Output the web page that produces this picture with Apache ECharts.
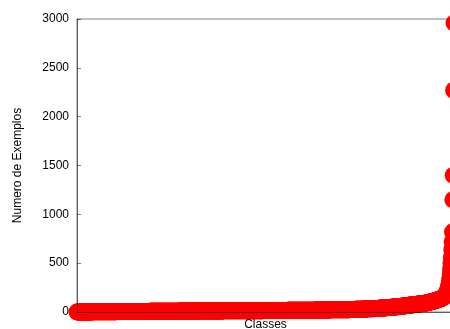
<!DOCTYPE html>
<html>
<head>
<meta charset="utf-8">
<script src="https://cdn.jsdelivr.net/npm/echarts@6/dist/echarts.min.js"></script>
<style>
  html, body { margin: 0; padding: 0; background: #fff; }
  #chart { width: 450px; height: 329px; }
</style>
</head>
<body>
<div id="chart"></div>
<script>
// Number of examples per class, sorted ascending.
// exampleCounts[k] examples occur in classesWithCount[k] classes.
const exampleCounts = [
  1, 2, 3, 4, 5,
  6, 7, 8, 9, 10, 11, 12,
  13, 14, 15, 16, 17,
  18, 19, 20, 21, 22, 23, 24,
  25, 26, 27, 28, 29, 30, 31, 32, 33, 34, 35, 36, 37, 38,
  39, 40, 41, 42, 43, 44, 45, 46, 47, 48, 49, 50, 51, 52, 53, 54, 55, 56,
  57, 58, 59, 60, 61, 62, 63, 64, 65, 66, 67, 68, 69, 70, 71, 72, 73, 74, 75, 76, 77, 78, 79, 80, 81, 82,
  83, 84, 85, 86, 87, 88, 89, 90, 91, 92, 93, 94, 95, 96, 97, 98, 99, 100,
  101, 102, 103, 104, 105, 106, 107, 108, 109, 110, 111, 112, 113, 114, 116, 117, 118, 119, 120,
  122, 123, 124, 126, 127, 128, 130, 131, 132, 134,
  135, 137, 139, 141, 143, 145, 147, 150, 153, 157, 161, 166, 172, 178, 185, 192, 200, 210,
  222, 235, 250, 270, 290, 320, 350, 390, 440, 500, 560, 640, 720, 820, 1150, 1400, 2270, 2960
];
const classesWithCount = [
  40, 35, 30, 25, 18,
  45, 42, 40, 40, 38, 36, 35,
  36, 34, 33, 33, 31,
  22, 21, 20, 19, 18, 17, 16,
  8, 8, 7, 7, 6, 6, 6, 5, 5, 5, 5, 4, 4, 4,
  4, 4, 4, 3, 3, 3, 3, 3, 3, 3, 3, 3, 2, 2, 2, 2, 2, 4,
  3, 2, 2, 2, 2, 2, 2, 2, 2, 2, 2, 2, 2, 2, 2, 2, 2, 2, 2, 2, 2, 2, 2, 2, 2, 2,
  2, 2, 2, 2, 2, 2, 2, 2, 2, 1, 1, 1, 1, 1, 1, 1, 1, 1,
  1, 1, 1, 1, 1, 1, 1, 1, 1, 1, 1, 1, 1, 1, 1, 1, 1, 1, 1,
  1, 1, 1, 1, 1, 1, 1, 1, 1, 1,
  1, 1, 1, 1, 1, 1, 1, 1, 1, 1, 1, 1, 1, 1, 1, 1, 1, 1,
  1, 1, 1, 1, 1, 1, 1, 1, 1, 1, 1, 1, 1, 1, 1, 1, 1, 1
];
const yTicks = [0, 500, 1000, 1500, 2000, 2500, 3000];
const xTitle = 'Classes';
const yTitle = 'Numero de Exemplos';

// One point per class: [class rank, number of examples]
const points = [];
exampleCounts.forEach((count, k) => {
  for (let j = 0; j < classesWithCount[k]; j++) {
    points.push([points.length + 1, count]);
  }
});

const axisInk = 'rgba(0,0,0,0.5)';
const font = 'Liberation Sans, Arial, Helvetica, sans-serif';

const chart = echarts.init(document.getElementById('chart'), null, { renderer: 'canvas' });
chart.setOption({
  animation: false,
  backgroundColor: '#fff',
  grid: {
    left: 77, top: 19, width: 377, bottom: 17,
    outerBoundsMode: 'none',
    containLabel: false,
    show: true, borderColor: axisInk, borderWidth: 1, backgroundColor: 'transparent'
  },
  xAxis: {
    type: 'value',
    min: 1,
    max: points.length,
    z: 10,
    name: xTitle,
    nameLocation: 'middle',
    nameGap: 7,
    nameTextStyle: { fontFamily: font, fontSize: 12, color: '#000' },
    axisLine: { show: true, lineStyle: { color: axisInk, width: 1 } },
    axisTick: { show: false },
    axisLabel: { show: false },
    splitLine: { show: false }
  },
  yAxis: {
    type: 'value',
    min: yTicks[0],
    max: yTicks[yTicks.length - 1],
    interval: yTicks[1] - yTicks[0],
    z: 10,
    name: yTitle,
    nameLocation: 'middle',
    nameRotate: 90,
    nameGap: 53,
    nameTextStyle: { fontFamily: font, fontSize: 12, color: '#000' },
    axisLine: { show: true, lineStyle: { color: axisInk, width: 1 } },
    axisTick: { show: true, inside: true, length: 4, lineStyle: { color: axisInk } },
    axisLabel: { fontFamily: font, fontSize: 12, color: '#000', margin: 8, formatter: v => String(v) },
    splitLine: { show: false }
  },
  series: [{
    type: 'scatter',
    data: points,
    symbol: 'circle',
    symbolSize: 17,
    clip: false,
    itemStyle: { color: '#ff0000', opacity: 1 },
    emphasis: { disabled: true }
  }]
});
</script>
</body>
</html>
